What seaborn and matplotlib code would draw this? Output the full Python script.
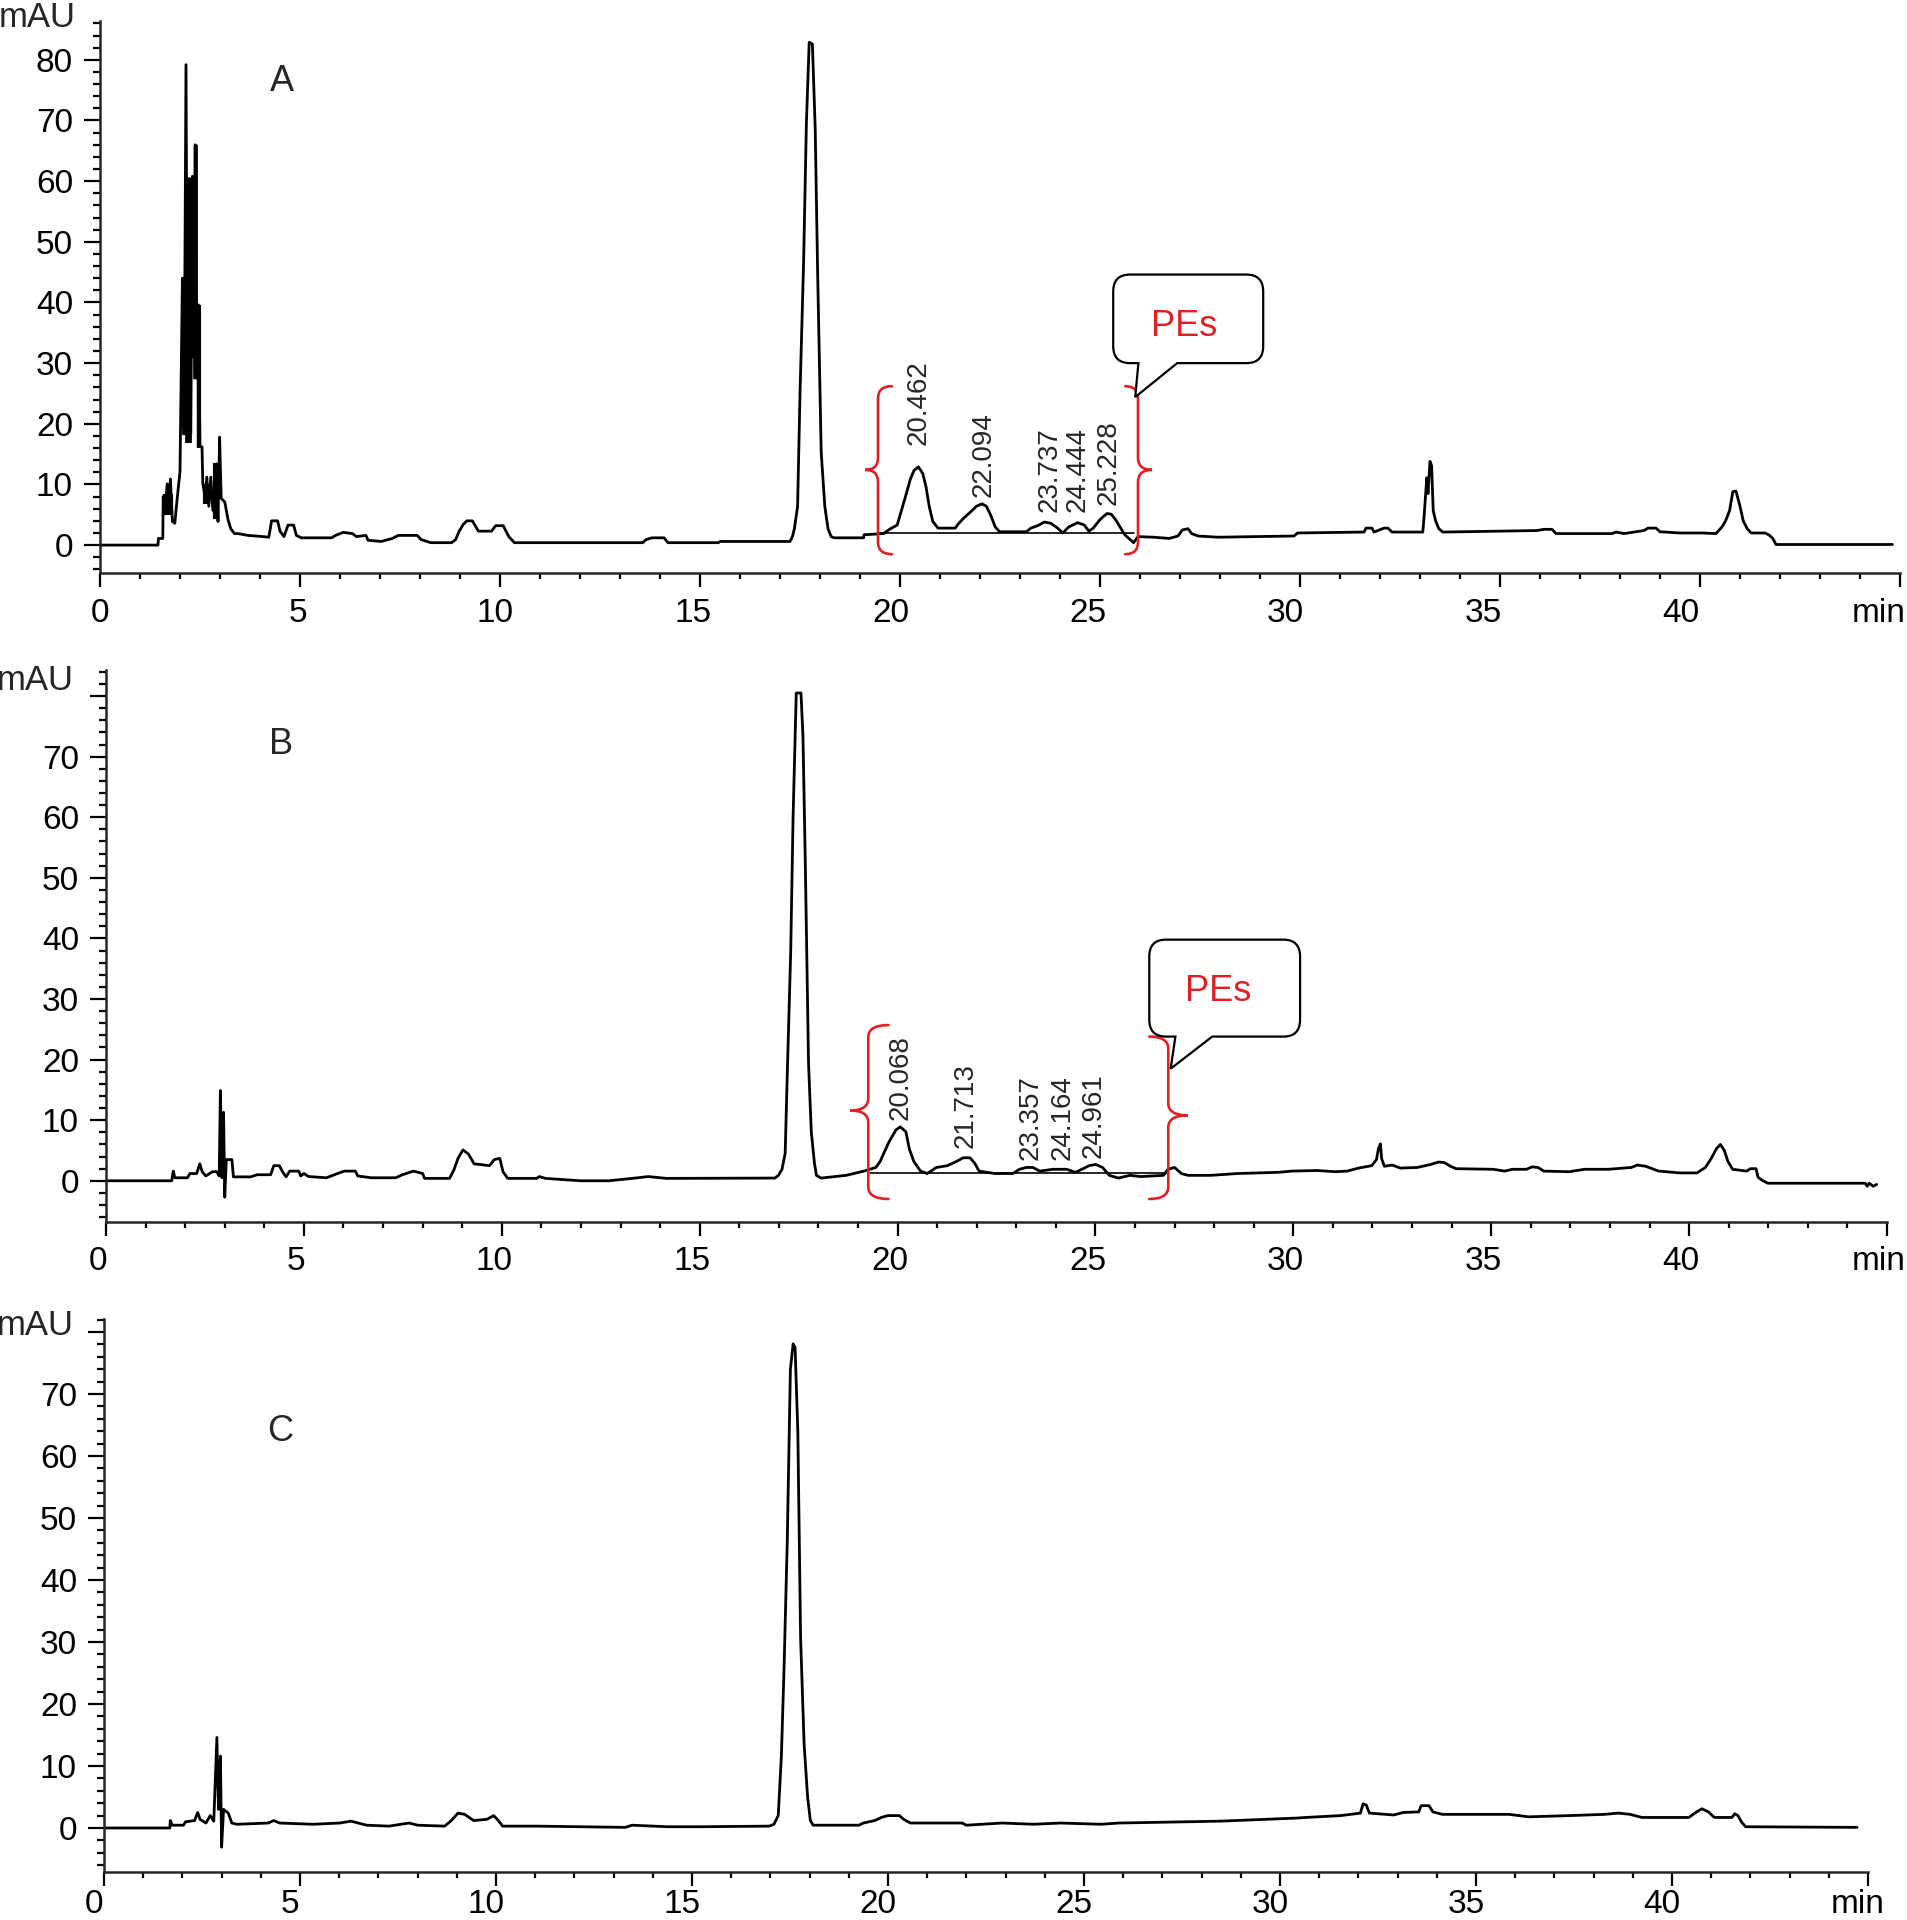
import matplotlib
matplotlib.use("Agg")
import matplotlib.pyplot as plt
import seaborn as sns
from matplotlib.path import Path
from matplotlib.patches import PathPatch
from matplotlib.ticker import MultipleLocator
from matplotlib.transforms import ScaledTranslation

# chromatogram traces: (time in min, absorbance in mAU)
trace_a = [
    (0, 0), (1.45, 0), (1.46, 1.1), (1.57, 1.1), (1.58, 8.0), (1.63, 5.8), (1.68, 10.1),
    (1.71, 5.2), (1.76, 10.9), (1.81, 3.9), (1.87, 3.6), (1.93, 7.7), (2.0, 12.1),
    (2.06, 44), (2.1, 18.4), (2.15, 79.2), (2.19, 17.2), (2.22, 60.3), (2.27, 18.4),
    (2.31, 60.8), (2.34, 31.1), (2.38, 66), (2.41, 27.6), (2.46, 39.6), (2.5, 16.2),
    (2.55, 16.2), (2.57, 10.2), (2.63, 7.7), (2.67, 11.2), (2.72, 6.4), (2.77, 11.2),
    (2.82, 5.8), (2.89, 5.2), (2.91, 13.4), (2.95, 3.9), (2.99, 17.8), (3.03, 7.7),
    (3.12, 7.1), (3.2, 4.2), (3.27, 2.7), (3.36, 1.9), (3.45, 1.9), (3.7, 1.6),
    (4.08, 1.4), (4.22, 1.3), (4.29, 4.0), (4.44, 4.0), (4.5, 2.3), (4.6, 1.4),
    (4.7, 3.3), (4.84, 3.3), (4.91, 1.6), (5.03, 1.2), (5.79, 1.2), (5.89, 1.6),
    (6.08, 2.1), (6.31, 1.9), (6.41, 1.4), (6.65, 1.6), (6.7, 0.8), (7.03, 0.6),
    (7.31, 1.1), (7.46, 1.6), (7.93, 1.6), (8.03, 0.9), (8.27, 0.4), (8.79, 0.4),
    (8.89, 0.9), (8.98, 2.3), (9.08, 3.4), (9.17, 4.0), (9.31, 4.0), (9.46, 2.3),
    (9.79, 2.3), (9.89, 3.2), (10.08, 3.2), (10.22, 1.4), (10.36, 0.4), (13.57, 0.4),
    (13.65, 0.9), (13.8, 1.2), (14.1, 1.2), (14.2, 0.4), (15.46, 0.4), (15.5, 0.6),
    (17.25, 0.6), (17.31, 1.4), (17.36, 2.7), (17.44, 6.4), (17.5, 25), (17.59, 46.6),
    (17.66, 69.6), (17.73, 82.9), (17.81, 82.6), (17.88, 68.7), (17.94, 45.3),
    (18.03, 15.3), (18.12, 6.4), (18.2, 2.7), (18.28, 1.4), (18.35, 1.2), (19.09, 1.2),
    (19.1, 1.7), (19.59, 1.9), (19.76, 2.7), (19.93, 3.3), (20.04, 5.8), (20.15, 8.3),
    (20.26, 10.9), (20.35, 12.3), (20.46, 12.9), (20.57, 11.8), (20.65, 9.6),
    (20.73, 6.4), (20.82, 3.9), (20.95, 2.8), (21.38, 2.8), (21.47, 3.6), (21.6, 4.5),
    (21.77, 5.5), (21.91, 6.4), (22.05, 6.8), (22.16, 6.4), (22.27, 4.9), (22.38, 3.0),
    (22.49, 2.2), (23.16, 2.2), (23.27, 2.8), (23.44, 3.2), (23.61, 3.8), (23.77, 3.6),
    (23.94, 2.8), (24.07, 2.0), (24.22, 3.0), (24.44, 3.7), (24.61, 3.3), (24.72, 2.3),
    (24.83, 2.8), (25.0, 4.2), (25.17, 5.2), (25.28, 5.1), (25.39, 4.2), (25.5, 3.0),
    (25.61, 1.8), (25.72, 1.1), (25.84, 0.4), (25.95, 1.4), (26.34, 1.3), (26.73, 1.1),
    (26.95, 1.5), (27.06, 2.5), (27.2, 2.7), (27.29, 1.9), (27.45, 1.5), (27.95, 1.3),
    (29.85, 1.5), (29.94, 2.0), (31.6, 2.15), (31.65, 2.8), (31.8, 2.8), (31.85, 2.15),
    (32.1, 2.8), (32.2, 2.8), (32.3, 2.15), (33.07, 2.15), (33.1, 4.5), (33.17, 11.1),
    (33.2, 8.5), (33.25, 13.8), (33.29, 13.1), (33.33, 5.7), (33.39, 4.0), (33.47, 2.7),
    (33.57, 2.15), (35.92, 2.4), (36.1, 2.6), (36.3, 2.6), (36.4, 1.9), (37.8, 1.9),
    (37.9, 2.15), (38.1, 1.9), (38.6, 2.4), (38.7, 2.8), (38.9, 2.8), (39.0, 2.2),
    (39.5, 2.0), (40.05, 2.0), (40.4, 1.9), (40.55, 3.0), (40.64, 4.0), (40.74, 5.7),
    (40.82, 8.8), (40.9, 8.9), (41.0, 6.4), (41.08, 4.0), (41.18, 2.7), (41.28, 2.0),
    (41.62, 2.0), (41.72, 1.7), (41.82, 1.1), (41.9, 0.1), (44.81, 0.1),
]

# dense noise in the solvent front of A, drawn as solid bands: (time, low, high)
noise_a = [
    [(1.58, 5.2, 8.5), (1.79, 5.2, 8.5)],
    [(2.06, 18.3, 44), (2.13, 18.3, 44), (2.131, 17, 60.6), (2.27, 17, 60.6),
     (2.271, 31, 60.6), (2.33, 31, 60.6), (2.331, 27.5, 60.6), (2.36, 27.5, 60.6),
     (2.361, 27.5, 66), (2.42, 27.5, 66), (2.421, 16.2, 39.6), (2.5, 16.2, 39.6)],
    [(2.58, 7, 10), (2.71, 7, 10)],
    [(2.83, 4.4, 13.6), (2.96, 4.4, 13.6)],
]

trace_b = [
    (0, 0), (1.66, 0), (1.67, 0.4), (1.70, 1.6), (1.74, 0.5), (2.06, 0.5), (2.12, 1.2),
    (2.29, 1.2), (2.37, 2.8), (2.43, 1.5), (2.52, 0.8), (2.69, 1.5), (2.8, 1.5),
    (2.86, 0.8), (2.89, 14.9), (2.93, 0.5), (2.97, 11.3), (3.0, -2.7), (3.04, 3.5),
    (3.18, 3.5), (3.22, 0.65), (3.65, 0.65), (3.82, 1.0), (4.16, 1.0), (4.24, 2.5),
    (4.38, 2.5), (4.46, 1.5), (4.55, 0.65), (4.64, 1.6), (4.87, 1.6), (4.92, 0.8),
    (5.0, 1.2), (5.12, 0.7), (5.57, 0.5), (5.85, 1.2), (6.02, 1.6), (6.3, 1.6),
    (6.36, 0.8), (6.7, 0.5), (7.32, 0.5), (7.49, 1.0), (7.77, 1.6), (8.0, 1.2),
    (8.05, 0.4), (8.68, 0.4), (8.79, 1.8), (8.9, 3.8), (9.02, 5.1), (9.16, 4.4),
    (9.3, 2.8), (9.69, 2.5), (9.81, 3.5), (9.95, 3.7), (10.03, 1.5), (10.15, 0.4),
    (10.88, 0.4), (10.95, 0.7), (11.1, 0.4), (12.0, 0.0), (12.69, 0.0), (13.3, 0.4),
    (13.7, 0.7), (14.16, 0.4), (16.9, 0.45), (16.99, 0.9), (17.08, 1.9), (17.16, 4.5),
    (17.22, 19.2), (17.3, 37.8), (17.36, 60), (17.44, 80.5), (17.56, 80.5),
    (17.61, 73.3), (17.67, 52), (17.75, 19.5), (17.82, 8.1), (17.9, 2.9), (17.95, 0.9),
    (18.07, 0.45), (18.7, 0.9), (19.15, 1.6), (19.45, 2.2), (19.56, 3.2), (19.67, 4.8),
    (19.79, 6.5), (19.96, 8.4), (20.07, 8.9), (20.21, 8.1), (20.3, 5.2), (20.41, 3.2),
    (20.58, 1.6), (20.75, 1.2), (20.98, 2.2), (21.26, 2.5), (21.49, 3.2), (21.66, 3.8),
    (21.83, 3.8), (21.95, 2.9), (22.06, 1.6), (22.46, 1.2), (22.91, 1.2), (23.08, 1.9),
    (23.25, 2.2), (23.42, 2.2), (23.59, 1.6), (23.93, 1.9), (24.27, 1.9), (24.5, 1.4),
    (24.84, 2.5), (25.01, 2.7), (25.18, 2.2), (25.35, 0.9), (25.58, 0.45), (25.87, 0.9),
    (26.15, 0.7), (26.72, 0.9), (26.83, 1.9), (27.0, 2.2), (27.17, 1.2), (27.34, 0.9),
    (27.91, 0.9), (28.59, 1.2), (29.62, 1.4), (29.96, 1.6), (30.6, 1.7), (31.06, 1.5),
    (31.36, 1.6), (31.65, 2.1), (31.98, 2.5), (32.1, 3.5), (32.15, 5.3), (32.2, 6.1),
    (32.23, 3.7), (32.3, 2.4), (32.5, 2.6), (32.7, 2.1), (33.13, 2.2), (33.47, 2.7),
    (33.67, 3.1), (33.82, 3.0), (33.97, 2.4), (34.11, 2.0), (35.05, 1.9), (35.34, 1.6),
    (35.54, 1.9), (35.89, 1.9), (36.03, 2.3), (36.18, 2.2), (36.33, 1.6), (36.97, 1.5),
    (37.36, 1.9), (37.95, 1.9), (38.54, 2.2), (38.69, 2.6), (38.9, 2.4), (39.23, 1.6),
    (39.77, 1.3), (40.2, 1.3), (40.41, 2.2), (40.56, 3.7), (40.69, 5.3), (40.79, 6.0),
    (40.89, 5.0), (40.98, 3.2), (41.1, 1.9), (41.45, 1.6), (41.55, 2.0), (41.69, 2.0),
    (41.74, 0.6), (41.84, 0.1), (41.99, -0.4), (44.45, -0.4), (44.5, -0.9),
    (44.55, -0.4), (44.65, -0.9), (44.74, -0.6),
]

trace_c = [
    (0, 0), (1.68, 0), (1.69, 1.2), (1.74, 0.45), (2.03, 0.45), (2.08, 1.0), (2.31, 1.2),
    (2.39, 2.5), (2.45, 1.4), (2.6, 0.8), (2.71, 2.0), (2.8, 1.1), (2.88, 14.6),
    (2.92, 3.0), (2.97, 11.6), (3.0, -3.1), (3.05, 3.0), (3.17, 2.4), (3.26, 0.8),
    (3.39, 0.6), (4.19, 0.8), (4.33, 1.2), (4.48, 0.8), (5.33, 0.6), (6.01, 0.8),
    (6.3, 1.1), (6.7, 0.45), (7.27, 0.3), (7.78, 0.8), (8.0, 0.45), (8.69, 0.3),
    (8.86, 1.2), (9.03, 2.4), (9.2, 2.2), (9.43, 1.2), (9.77, 1.4), (9.94, 2.0),
    (10.06, 1.2), (10.17, 0.3), (11.03, 0.3), (13.3, 0.1), (13.47, 0.45), (14.38, 0.2),
    (15.2, 0.2), (16.97, 0.3), (17.09, 0.6), (17.2, 2.0), (17.28, 11.6), (17.35, 26.2),
    (17.43, 46.3), (17.51, 74), (17.58, 78.1), (17.63, 77.5), (17.7, 63.8),
    (17.77, 30.7), (17.86, 13.5), (17.95, 4.9), (18.02, 1.2), (18.09, 0.45),
    (19.26, 0.45), (19.37, 0.8), (19.66, 1.2), (19.83, 1.7), (20.0, 2.0), (20.29, 2.0),
    (20.4, 1.4), (20.57, 0.8), (21.89, 0.8), (22.0, 0.45), (22.91, 0.8), (23.71, 0.6),
    (24.4, 0.8), (25.43, 0.6), (25.89, 0.8), (28.46, 1.1), (28.86, 1.2), (30.43, 1.6),
    (30.66, 1.7), (31.55, 2.0), (32.05, 2.4), (32.12, 3.9), (32.2, 3.7), (32.28, 2.4),
    (32.9, 2.1), (33.14, 2.5), (33.54, 2.6), (33.6, 3.6), (33.8, 3.6), (33.9, 2.6),
    (34.14, 2.2), (35.84, 2.2), (36.34, 1.8), (37.39, 2.0), (38.28, 2.2), (38.63, 2.4),
    (38.93, 2.2), (39.23, 1.7), (40.43, 1.7), (40.58, 2.4), (40.76, 3.1), (40.93, 2.6),
    (41.08, 1.7), (41.53, 1.7), (41.6, 2.3), (41.68, 2.0), (41.78, 0.9), (41.88, 0.2),
    (44.72, 0.1),
]

# integration baselines drawn under the PE peaks
baseline_a = [(19.45, 2.0), (25.85, 2.0)]
baseline_b = [(19.3, 1.3), (26.8, 1.3)]

# retention times of the PE peaks and the height where each label starts
rt_a = [20.462, 22.094, 23.737, 24.444, 25.228]
rt_a_y = [16.5, 7.9, 5.4, 5.4, 6.6]
rt_b = [20.068, 21.713, 23.357, 24.164, 24.961]
rt_b_y = [10.0, 5.4, 3.5, 3.5, 3.8]

letters = ["A", "B", "C"]
x_ticks = [0, 5, 10, 15, 20, 25, 30, 35, 40, 45]
x_labels = ["0", "5", "10", "15", "20", "25", "30", "35", "40", "min"]
y_ticks = [0, 10, 20, 30, 40, 50, 60, 70, 80]

RED = "#e41e25"

sns.set_style("ticks")
plt.rcParams["font.family"] = ["Liberation Sans", "DejaVu Sans"]

fig = plt.figure(figsize=(19.08, 19.20), dpi=100)

# axes rectangles, y limits, letter position, "mAU" position, tick label shift (px)
panels = [
    dict(rect=[0.05241, 0.70156, 0.94340, 0.2875], ylim=(-4.6, 86.4), letter=(4.55, 76.4),
         mau=(0.0398, 0.9911), shift=lambda v: -0.48 * v, top_label=True, xpad=8),
    dict(rect=[0.05556, 0.36354, 0.93344, 0.2875], ylim=(-6.8, 84.3), letter=(4.42, 72.0),
         mau=(0.0388, 0.6458), shift=lambda v: -8, top_label=False, xpad=7),
    dict(rect=[0.05451, 0.02500, 0.92453, 0.2880], ylim=(-7.1, 82.1), letter=(4.49, 63.9),
         mau=(0.0388, 0.3094), shift=lambda v: -10, top_label=False, xpad=2.5),
]
traces = [trace_a, trace_b, trace_c]


def brace(ax, x_stem, x_tip, x_end, y_top, y_bot, y_mid, c=2.0):
    verts = [(x_end, y_top), (x_stem, y_top), (x_stem, y_top - c),
             (x_stem, y_mid + c),
             (x_stem, y_mid), (x_tip, y_mid),
             (x_stem, y_mid), (x_stem, y_mid - c),
             (x_stem, y_bot + c),
             (x_stem, y_bot), (x_end, y_bot)]
    codes = [Path.MOVETO, Path.CURVE3, Path.CURVE3, Path.LINETO, Path.CURVE3, Path.CURVE3,
             Path.CURVE3, Path.CURVE3, Path.LINETO, Path.CURVE3, Path.CURVE3]
    ax.add_patch(PathPatch(Path(verts, codes), fill=False, edgecolor=RED, lw=1.9,
                           zorder=4, capstyle="round"))


def bubble(ax, x0, x1, y0, y1, tail_l, tail_r, tip, text_xy, rx=0.42, ry=2.8):
    verts = [(x0 + rx, y1), (x1 - rx, y1), (x1, y1), (x1, y1 - ry), (x1, y0 + ry),
             (x1, y0), (x1 - rx, y0), (tail_r, y0), tip, (tail_l, y0), (x0 + rx, y0),
             (x0, y0), (x0, y0 + ry), (x0, y1 - ry), (x0, y1), (x0 + rx, y1), (x0 + rx, y1)]
    codes = [Path.MOVETO, Path.LINETO, Path.CURVE3, Path.CURVE3, Path.LINETO, Path.CURVE3,
             Path.CURVE3, Path.LINETO, Path.LINETO, Path.LINETO, Path.LINETO, Path.CURVE3,
             Path.CURVE3, Path.LINETO, Path.CURVE3, Path.CURVE3, Path.CLOSEPOLY]
    ax.add_patch(PathPatch(Path(verts, codes), facecolor="white", edgecolor="black",
                           lw=1.6, zorder=5))
    ax.text(text_xy[0], text_xy[1], "PEs", color=RED, fontsize=26, ha="center",
            va="center", zorder=6)


axes = []
for i, (p, tr) in enumerate(zip(panels, traces)):
    ax = fig.add_axes(p["rect"])
    axes.append(ax)
    t = [q[0] for q in tr]
    y = [q[1] for q in tr]
    sns.lineplot(x=t, y=y, ax=ax, color="black", linewidth=2.0, estimator=None,
                 sort=False)
    ax.set_xlim(0, 45)
    ax.set_ylim(*p["ylim"])
    sns.despine(ax=ax)
    for side in ("left", "bottom"):
        ax.spines[side].set_linewidth(1.8)
    ax.set_xticks(x_ticks)
    ax.set_xticklabels(x_labels)
    ax.xaxis.set_minor_locator(MultipleLocator(1))
    ax.set_yticks(y_ticks)
    ylab = [str(v) for v in y_ticks]
    if not p["top_label"]:
        ylab[-1] = ""
    ax.set_yticklabels(ylab)
    ax.yaxis.set_minor_locator(MultipleLocator(2))
    ax.tick_params(axis="both", which="both", direction="out", width=1.6, labelsize=24,
                   colors="black")
    ax.tick_params(axis="y", which="major", length=11.5, pad=8)
    ax.tick_params(axis="y", which="minor", length=4.7)
    ax.tick_params(axis="x", which="major", length=10, pad=p["xpad"])
    ax.tick_params(axis="x", which="minor", length=4)
    for lab, v in zip(ax.get_xticklabels(), x_ticks):
        off = ScaledTranslation(p["shift"](v) / 100.0, 0, fig.dpi_scale_trans)
        lab.set_transform(lab.get_transform() + off)
    ax.set_xlabel("")
    ax.set_ylabel("")
    ax.text(p["letter"][0], p["letter"][1], letters[i], fontsize=26, ha="center",
            va="center")
    fig.text(p["mau"][0], p["mau"][1], "mAU", fontsize=25, ha="right", va="center")

ax_a, ax_b, ax_c = axes

# panel A annotations
for band in noise_a:
    ax_a.fill_between([q[0] for q in band], [q[1] for q in band], [q[2] for q in band],
                      color="black", lw=0.8, edgecolor="black")
ax_a.plot([q[0] for q in baseline_a], [q[1] for q in baseline_a], color="black", lw=1.2)
for rt, yy in zip(rt_a, rt_a_y):
    ax_a.text(rt, yy, f"{rt:.3f}", rotation=90, fontsize=20, ha="center", va="bottom")
brace(ax_a, x_stem=19.45, x_tip=19.13, x_end=19.8, y_top=26.2, y_bot=-1.5, y_mid=12.4)
brace(ax_a, x_stem=25.95, x_tip=26.3, x_end=25.63, y_top=26.2, y_bot=-1.5, y_mid=12.4)
bubble(ax_a, 25.33, 29.08, 30.0, 44.6, 25.96, 26.93, (25.88, 24.4), (27.1, 36.0))

# panel B annotations
ax_b.plot([q[0] for q in baseline_b], [q[1] for q in baseline_b], color="black", lw=1.2)
for rt, yy in zip(rt_b, rt_b_y):
    ax_b.text(rt, yy, f"{rt:.3f}", rotation=90, fontsize=20, ha="center", va="bottom")
brace(ax_b, x_stem=19.26, x_tip=18.81, x_end=19.77, y_top=25.7, y_bot=-3.0, y_mid=11.6)
brace(ax_b, x_stem=26.84, x_tip=27.33, x_end=26.36, y_top=23.8, y_bot=-3.0, y_mid=10.8)
bubble(ax_b, 26.36, 30.17, 23.8, 39.8, 27.02, 27.95, (26.9, 18.5), (28.1, 31.2))

fig.savefig("out.png", dpi=100)
